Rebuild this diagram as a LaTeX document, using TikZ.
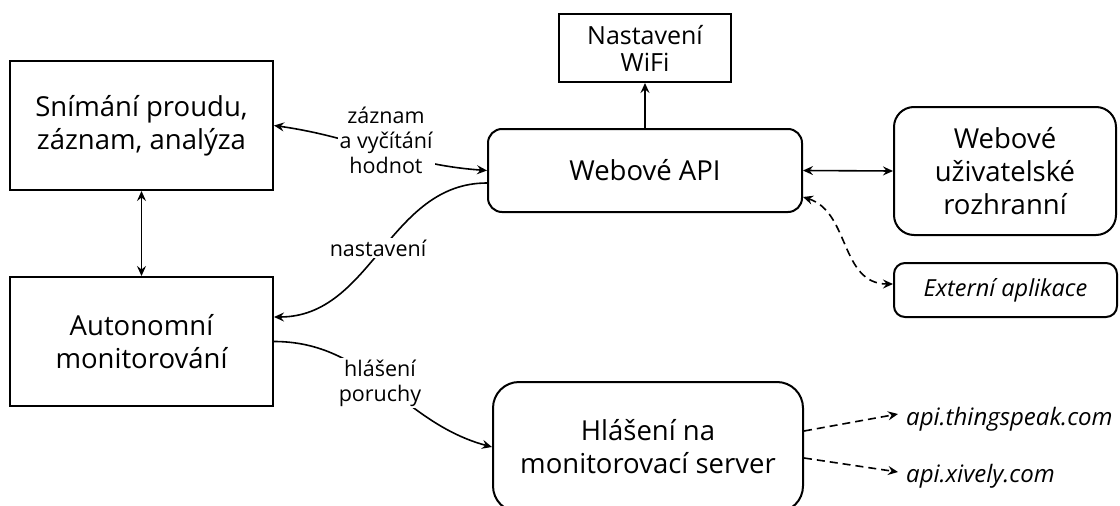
\documentclass[tikz,border=0pt]{standalone}
\usepackage{fontspec}
\setmainfont{Open Sans}
\usetikzlibrary{arrows.meta,calc}
\begin{document}
\begin{tikzpicture}[x=1pt,y=-1pt,
  box/.style={draw,line width=2pt,align=center,inner sep=0pt,
    font=\fontsize{27.5}{33}\selectfont},
  rbox/.style={box,rounded corners=#1},
  lbl/.style={fill=white,align=center,inner sep=2pt,
    font=\fontsize{21.5}{25}\selectfont},
  ital/.style={inner sep=0pt,font=\fontsize{24}{28}\selectfont\itshape},
  conn/.style={line width=1.6pt,-{Stealth[length=10pt,width=9pt,inset=3.5pt]}},
  bconn/.style={line width=1.6pt,{Stealth[length=10pt,width=9pt,inset=3.5pt]}-{Stealth[length=10pt,width=9pt,inset=3.5pt]}},
  dsh/.style={dash pattern=on 8pt off 5pt}
]
\useasboundingbox (0,0) rectangle (1120,506);

% boxes
\node[box,minimum width=263pt,minimum height=129pt] (snim) at (141.5,125.5)
  {Snímání proudu,\\záznam, analýza};
\node[box,minimum width=263pt,minimum height=129pt] (auto) at (141.5,341.5)
  {Autonomní\\monitorování};
\node[box,minimum width=172pt,minimum height=68pt,
  font=\fontsize{25}{27}\selectfont] (wifi) at (645,48) {Nastavení\\WiFi};
\node[rbox=14pt,minimum width=314pt,minimum height=83pt] (api) at (645,170.5)
  {Webové API};
\node[rbox=20pt,minimum width=222pt,minimum height=128pt] (ui) at (1005,171)
  {Webové\\uživatelské\\rozhranní};
\node[rbox=11pt,minimum width=223pt,minimum height=54pt,
  font=\fontsize{23.5}{28}\selectfont\itshape] (ext) at (1005.5,290)
  {Externí aplikace};
\node[rbox=26pt,minimum width=310pt,minimum height=130pt] (hl) at (648,447)
  {Hlášení na\\monitorovací server};

% external targets
\node[ital,anchor=base west] (ts) at (906,425) {api.thingspeak.com};
\node[ital,anchor=base west] (xv) at (906,482) {api.xively.com};
\coordinate (tsin) at (898,414);
\coordinate (xvin) at (898,472);

% connectors
\draw[bconn] (snim.south) -- (auto.north);
\draw[conn] (api.north) -- (wifi.south);
\draw[bconn] (api.east) -- (ui.west);
\draw[bconn,dsh] ([yshift=-26.5pt]api.east) .. controls (850,212) and (840,284) .. ([yshift=6pt]ext.west);

\draw[bconn] (snim.east) to[out=-8,in=176] (api.west);
\node[lbl] (l1) at (386,140) {záznam\\a vyčítání\\hodnot};

\draw[conn] ([yshift=-12.5pt]api.west) to[out=180,in=0] ([yshift=24.5pt]auto.east);
\node[lbl] (l2) at (378,248) {nastavení};

\draw[conn] (auto.east) to[out=0,in=165] (hl.west);
\node[lbl] (l3) at (380,383) {hlášení\\poruchy};

\draw[conn,dsh] ([yshift=16pt]hl.east) -- (tsin);
\draw[conn,dsh] ([yshift=-11pt]hl.east) -- (xvin);
\end{tikzpicture}
\end{document}
